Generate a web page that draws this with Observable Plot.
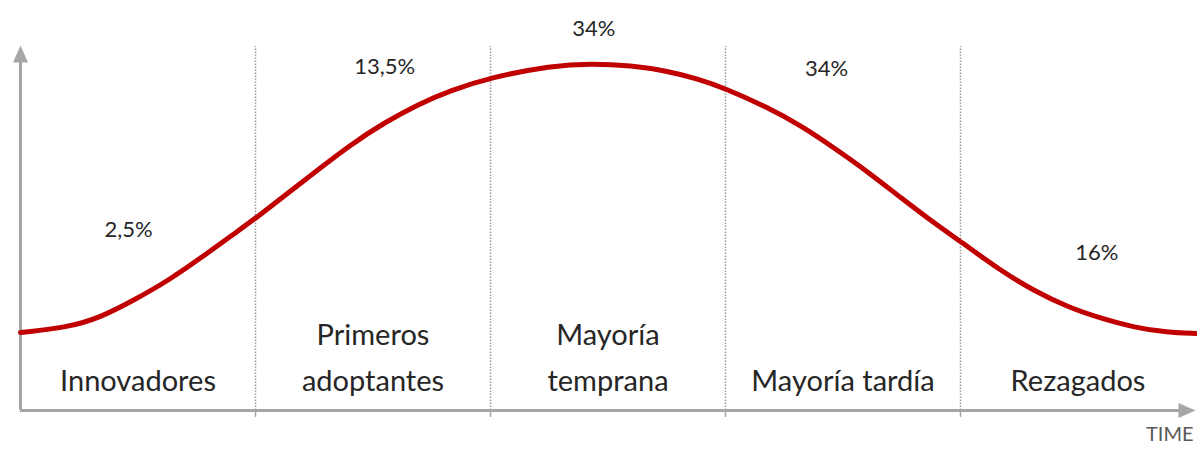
<!DOCTYPE html>
<html>
<head>
<meta charset="utf-8">
<script src="https://cdn.jsdelivr.net/npm/d3@7"></script>
<script src="https://cdn.jsdelivr.net/npm/@observablehq/plot@0.6"></script>
<style>
  html, body { margin: 0; padding: 0; background: #fff; }
  #chart svg { display: block; }
</style>
</head>
<body>
<div id="chart"></div>
<script>
// Adoption curve (time in stage units, height in arbitrary units)
const timeX = [0, 0.2, 0.34, 0.48, 0.63, 0.77, 0.91, 1.0, 1.19, 1.41, 1.55, 1.69, 1.83, 2.0, 2.26, 2.43, 2.6, 2.74, 2.88, 3.0, 3.18, 3.32, 3.46, 3.61, 3.75, 3.89, 4.0, 4.17, 4.31, 4.46, 4.6, 4.74, 4.88, 5.0];
const adoption = [78, 83, 93, 110, 130, 153, 177, 192, 227, 267, 288, 306, 320, 333, 345, 347, 345, 340, 332, 322, 303, 285, 263, 238, 212, 187, 169, 140, 120, 103, 92, 83, 78, 77];

// Stage names and boundaries
const stages = ["Innovadores", "Primeros\nadoptantes", "Mayoría\ntemprana", "Mayoría tardía", "Rezagados"];
const boundaries = [1, 2, 3, 4];

// Percentage labels and where they sit
const shares = ["2,5%", "13,5%", "34%", "34%", "16%"];
const shareX = [0.46, 1.55, 2.44, 3.43, 4.58];
const shareY = [181, 344, 382, 342, 158];

const axisLabel = "TIME";

const curve = timeX.map((t, i) => ({t, h: adoption[i]}));
const stageRows = stages.map((name, i) => ({name, t: i + 0.5}));
const shareRows = shares.map((s, i) => ({s, t: shareX[i], h: shareY[i]}));

const gray = "#a6a6a6";
const arrowHead = {
  draw(ctx) {
    ctx.moveTo(0, 0);
    ctx.lineTo(7.5, 17);
    ctx.lineTo(-7.5, 17);
    ctx.closePath();
  }
};

const chart = Plot.plot({
  width: 1197,
  height: 450,
  marginLeft: 20,
  marginRight: 2,
  marginTop: 45,
  marginBottom: 40,
  style: {fontFamily: "Lato, sans-serif", background: "#fff"},
  x: {domain: [0, 5], axis: null},
  y: {domain: [0, 365], axis: null},
  marks: [
    // dotted stage separators
    Plot.ruleX(boundaries, {y1: 0, y2: 364, stroke: "#9a9a9a", strokeWidth: 1.5, strokeDasharray: "1.5,1.5"}),
    Plot.axisX({ticks: boundaries, tickSize: 7, tickFormat: () => "", label: null, stroke: gray, strokeWidth: 1.5}),
    // axes lines
    Plot.ruleY([0], {x1: 0, x2: 4.95, stroke: gray, strokeWidth: 3}),
    Plot.ruleX([0], {y1: 0, y2: 352, stroke: gray, strokeWidth: 3}),
    Plot.dot([{t: 0, h: 365}], {x: "t", y: "h", symbol: arrowHead, fill: gray, stroke: null}),
    Plot.dot([{t: 5, h: 0}], {x: "t", y: "h", symbol: arrowHead, fill: gray, stroke: null, rotate: 90}),
    // the curve
    Plot.line(curve, {x: "t", y: "h", curve: "basis", stroke: "#c00000", strokeWidth: 5}),
    // stage labels
    Plot.text(stageRows, {x: "t", y: 20, text: "name", lineAnchor: "bottom", lineHeight: 1.58, fontSize: 29, fill: "#262626"}),
    // percentage labels
    Plot.text(shareRows, {x: "t", y: "h", text: "s", fontSize: 22, fill: "#262626"}),
    // axis title
    Plot.text([axisLabel], {frameAnchor: "bottom-right", dx: -2, dy: 30, textAnchor: "end", fontSize: 20, fill: "#595959"})
  ]
});

document.getElementById("chart").append(chart);
</script>
</body>
</html>
